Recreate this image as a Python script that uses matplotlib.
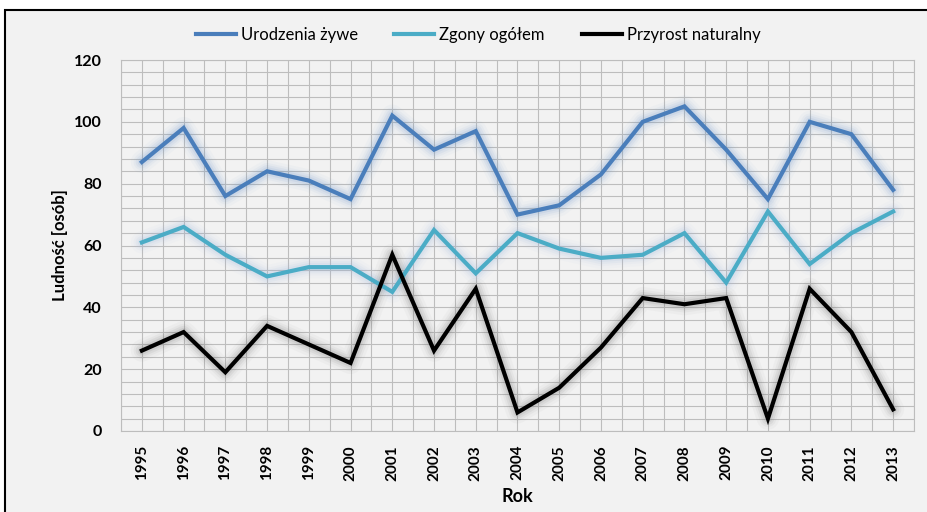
import matplotlib.pyplot as plt
import matplotlib.patches as mpatches
from matplotlib.ticker import MultipleLocator
import numpy as np

plt.rcParams['font.family'] = ['Lato', 'DejaVu Sans']

years = [str(y) for y in range(1995, 2014)]
urodzenia = [87, 98, 76, 84, 81, 75, 102, 91, 97, 70, 73, 83, 100, 105, 91, 75, 100, 96, 78]
zgony = [61, 66, 57, 50, 53, 53, 45, 65, 51, 64, 59, 56, 57, 64, 48, 71, 54, 64, 71]
przyrost = [26, 32, 19, 34, 28, 22, 57, 26, 46, 6, 14, 27, 43, 41, 43, 4, 46, 32, 7]

series = [
    ("Urodzenia żywe", urodzenia, "#4a7ebb", "#6f97cc"),
    ("Zgony ogółem", zgony, "#4bacc6", "#9ab8de"),
    ("Przyrost naturalny", przyrost, "#000000", "#707070"),
]

bg = "#f2f2f2"
fig = plt.figure(figsize=(9.28, 5.12), dpi=100, facecolor="white")
# chart area with black frame
frame = mpatches.Rectangle((5 / 928, -0.1), 1.1, 1 - 10 / 512 + 0.1,
                           transform=fig.transFigure, facecolor=bg,
                           edgecolor="black", linewidth=1.5, zorder=-5)
fig.add_artist(frame)

ax = fig.add_axes([121 / 928, 1 - 431 / 512, (914 - 121) / 928, (431 - 60) / 512])
ax.set_facecolor(bg)
x = np.arange(len(years))

# soft glow under each line
for name, vals, col, glow in series:
    for lw, a in [(16, 0.04), (12, 0.06), (9, 0.09), (6, 0.12)]:
        ax.plot(x, vals, color=glow, lw=lw, alpha=a, solid_joinstyle="round",
                solid_capstyle="round", zorder=2)
for name, vals, col, glow in series:
    ax.plot(x, vals, color=col, lw=3, label=name, zorder=3, solid_joinstyle="miter")

ax.set_xlim(-0.5, len(years) - 0.5)
ax.set_ylim(0, 120)
ax.set_xticks(x)
ax.set_xticklabels(years, rotation=90, fontweight="bold", fontsize=11)
ax.yaxis.set_major_locator(MultipleLocator(20))
ax.yaxis.set_minor_locator(MultipleLocator(4))
ax.xaxis.set_minor_locator(MultipleLocator(0.5))
ax.tick_params(axis="both", which="both", length=0)
ax.tick_params(axis="x", pad=10)
ax.tick_params(axis="y", pad=14)
for lab in ax.get_yticklabels():
    lab.set_fontweight("bold")
    lab.set_fontsize(11.5)
ax.grid(True, which="both", color="#bdbdbd", linewidth=0.8)
ax.set_axisbelow(True)
for s in ax.spines.values():
    s.set_color("#bdbdbd")
    s.set_linewidth(0.8)

ax.set_ylabel("Ludność [osób]", fontweight="bold", fontsize=12, labelpad=4)
ax.set_xlabel("Rok", fontweight="bold", fontsize=13, labelpad=5)

leg = fig.legend(loc="center", bbox_to_anchor=(478 / 928, 1 - 35 / 512), ncol=3,
                 frameon=False, fontsize=12, handlelength=2.4, columnspacing=2.2,
                 handletextpad=0.3)

fig.savefig("out.png", dpi=100, facecolor="white")
